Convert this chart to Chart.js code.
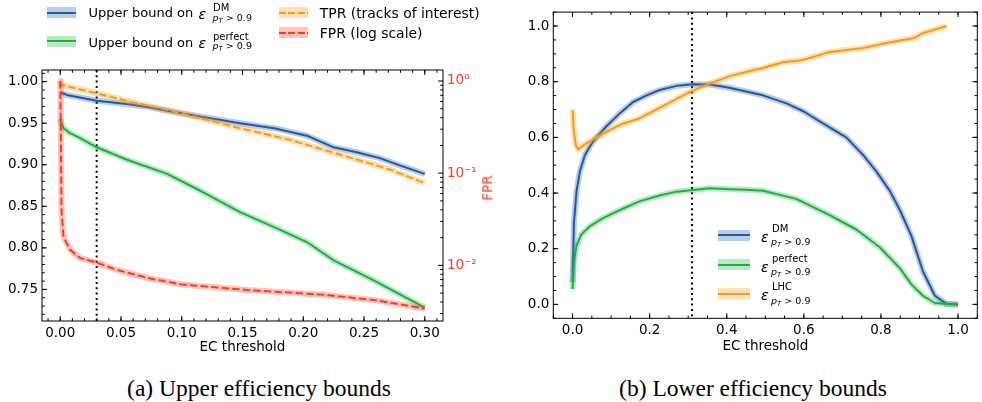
<!DOCTYPE html>
<html lang="en">
<head>
<meta charset="UTF-8">
<title>Efficiency bounds</title>
<script src="https://cdn.jsdelivr.net/npm/chart.js"></script>
<style>
  body { margin: 0; background: #fff; }
  #fig { position: relative; width: 982px; height: 402px; overflow: hidden; background: #fff; }
  canvas { position: absolute; top: 0; }
  .t { position: absolute; font-family: 'DejaVu Sans'; font-size: 13.5px; line-height: 1; white-space: nowrap; color: #000; }
  .w { font-size: 13.9px; }
  .n { font-size: 13px; }
  .eps { font-style: italic; font-size: 14px; }
  .sm { font-size: 10px; }
  .sb { font-size: 9.5px; }
  .sb i.T { font-size: 7px; vertical-align: -2px; }
  .sw { position: absolute; height: 11px; }
  .sw div { position: absolute; left: 0; right: 0; top: 4.5px; height: 2px; }
  .cap { position: absolute; font-family: 'Liberation Serif'; font-size: 23.5px; line-height: 1; white-space: nowrap; transform: translateX(-50%); }
  .rot { position: absolute; font-family: 'DejaVu Sans'; font-size: 13.5px; line-height: 1; white-space: nowrap; transform: translate(-50%, -50%) rotate(-90deg); }
</style>
</head>
<body>
<div id="fig">
  <canvas id="chartA" width="494" height="360" style="left:0"></canvas>
  <canvas id="chartB" width="488" height="360" style="left:494px"></canvas>

  <!-- legend (a) -->
  <div class="sw" style="left:46.7px;top:7.2px;width:29.3px;background:rgba(31,90,166,0.3)"><div style="background:#1f5aa6"></div></div>
  <span class="t n" style="left:88.5px;top:6.3px">Upper bound on</span>
  <span class="t eps" style="left:198.5px;top:6.6px">ε</span>
  <span class="t sm" style="left:213px;top:2.5px">DM</span>
  <span class="t sb" style="left:212.5px;top:12.6px"><i>p</i><i class="T">T</i> &gt; 0.9</span>

  <div class="sw" style="left:46.7px;top:35.5px;width:29.3px;background:rgba(28,179,60,0.3)"><div style="background:#1cb33c"></div></div>
  <span class="t n" style="left:88.5px;top:35.7px">Upper bound on</span>
  <span class="t eps" style="left:198.5px;top:35.9px">ε</span>
  <span class="t sm" style="left:213px;top:31.5px">perfect</span>
  <span class="t sb" style="left:212.5px;top:41.3px"><i>p</i><i class="T">T</i> &gt; 0.9</span>

  <div class="sw" style="left:279.3px;top:7.2px;width:29px;background:rgba(255,154,14,0.3)"><div style="background:repeating-linear-gradient(90deg,#ff9a0e 0 6.8px,transparent 6.8px 9.4px)"></div></div>
  <span class="t w" style="left:319.8px;top:6.6px">TPR (tracks of interest)</span>
  <div class="sw" style="left:279.3px;top:27.2px;width:29px;background:rgba(255,59,28,0.3)"><div style="background:repeating-linear-gradient(90deg,#ff3b1c 0 6.8px,transparent 6.8px 9.4px)"></div></div>
  <span class="t w" style="left:319.8px;top:27.3px">FPR (log scale)</span>

  <span class="rot" style="left:488px;top:188px;color:#ff3b1c">FPR</span>

  <!-- legend (b) -->
  <div class="sw" style="left:718px;top:229.5px;width:32px;background:rgba(31,90,166,0.3)"><div style="background:#1f5aa6"></div></div>
  <span class="t eps" style="left:761px;top:229.7px">ε</span>
  <span class="t sm" style="left:772px;top:224.2px">DM</span>
  <span class="t sb" style="left:771px;top:237px"><i>p</i><i class="T">T</i> &gt; 0.9</span>

  <div class="sw" style="left:718px;top:259px;width:32px;background:rgba(28,179,60,0.3)"><div style="background:#1cb33c"></div></div>
  <span class="t eps" style="left:761px;top:259.5px">ε</span>
  <span class="t sm" style="left:772px;top:253.8px">perfect</span>
  <span class="t sb" style="left:771px;top:266.8px"><i>p</i><i class="T">T</i> &gt; 0.9</span>

  <div class="sw" style="left:718px;top:288px;width:32px;background:rgba(255,154,14,0.3)"><div style="background:#ff9a0e"></div></div>
  <span class="t eps" style="left:761px;top:288.2px">ε</span>
  <span class="t sm" style="left:772px;top:282.2px">LHC</span>
  <span class="t sb" style="left:771px;top:295.5px"><i>p</i><i class="T">T</i> &gt; 0.9</span>

  <span class="cap" style="left:259px;top:377px">(a) Upper efficiency bounds</span>
  <span class="cap" style="left:753px;top:377px">(b) Lower efficiency bounds</span>
</div>

<script>
// (a) upper efficiency bounds vs EC threshold
const dmUpX = [0, 0.0055, 0.03, 0.055, 0.074, 0.088, 0.115, 0.148, 0.176, 0.203, 0.225, 0.244, 0.263, 0.28, 0.3];
const dmUpY = [0.987, 0.984, 0.977, 0.973, 0.969, 0.965, 0.958, 0.950, 0.944, 0.935, 0.921, 0.915, 0.908, 0.899, 0.889];
const perfUpX = [0, 0.001, 0.0027, 0.008, 0.0165, 0.03, 0.055, 0.088, 0.115, 0.148, 0.176, 0.203, 0.225, 0.258, 0.3];
const perfUpY = [0.955, 0.950, 0.944, 0.938, 0.932, 0.921, 0.906, 0.889, 0.869, 0.843, 0.825, 0.807, 0.785, 0.761, 0.728];
const tprX = [0, 0.001, 0.03, 0.06, 0.088, 0.115, 0.148, 0.189, 0.231, 0.272, 0.3];
const tprY = [1.0, 0.996, 0.986, 0.975, 0.966, 0.956, 0.944, 0.930, 0.912, 0.894, 0.878];
const fprX = [0, 0.0005, 0.001, 0.0027, 0.008, 0.0165, 0.03, 0.047, 0.074, 0.1, 0.154, 0.217, 0.258, 0.3];
const fprY = [1.0, 0.3, 0.04, 0.0204, 0.0148, 0.012, 0.0107, 0.0089, 0.0072, 0.0062, 0.0054, 0.0048, 0.0042, 0.0034];
const thresholdA = 0.03;

const xTicksA = [0, 0.05, 0.10, 0.15, 0.20, 0.25, 0.30];
const xLabelsA = ['0.00', '0.05', '0.10', '0.15', '0.20', '0.25', '0.30'];
const yTicksA = [0.75, 0.80, 0.85, 0.90, 0.95, 1.00];
const yLabelsA = ['0.75', '0.80', '0.85', '0.90', '0.95', '1.00'];
const fprTicks = [0.01, 0.1, 1];
const fprLabels = ['10\u207B\u00B2', '10\u207B\u00B9', '10\u2070'];

// (b) lower efficiency bounds vs EC threshold
const dmX = [0, 0.0035, 0.0104, 0.019, 0.032, 0.049, 0.066, 0.088, 0.123, 0.157, 0.192, 0.226, 0.27, 0.313, 0.356, 0.40, 0.45, 0.494, 0.555, 0.60, 0.64, 0.71, 0.754, 0.788, 0.823, 0.849, 0.879, 0.909, 0.94, 0.97, 1.0];
const dmY = [0.08, 0.292, 0.408, 0.478, 0.536, 0.577, 0.606, 0.640, 0.687, 0.727, 0.751, 0.770, 0.785, 0.791, 0.790, 0.780, 0.765, 0.751, 0.722, 0.693, 0.658, 0.600, 0.536, 0.478, 0.408, 0.339, 0.246, 0.118, 0.031, 0.002, 0.0];
const perfX = [0, 0.0035, 0.0104, 0.023, 0.045, 0.079, 0.123, 0.175, 0.226, 0.27, 0.313, 0.356, 0.408, 0.45, 0.494, 0.58, 0.667, 0.736, 0.797, 0.849, 0.879, 0.909, 0.94, 0.97, 1.0];
const perfY = [0.055, 0.153, 0.211, 0.252, 0.281, 0.310, 0.339, 0.371, 0.391, 0.405, 0.411, 0.417, 0.414, 0.412, 0.408, 0.379, 0.321, 0.269, 0.205, 0.130, 0.072, 0.031, 0.005, 0.001, 0.0];
const lhcX = [0, 0.0035, 0.009, 0.0147, 0.0276, 0.062, 0.097, 0.131, 0.166, 0.2, 0.244, 0.287, 0.313, 0.356, 0.408, 0.45, 0.494, 0.546, 0.598, 0.667, 0.754, 0.823, 0.884, 0.91, 0.97];
const lhcY = [0.698, 0.617, 0.571, 0.557, 0.571, 0.600, 0.627, 0.650, 0.664, 0.687, 0.719, 0.751, 0.768, 0.794, 0.820, 0.835, 0.849, 0.870, 0.878, 0.907, 0.921, 0.942, 0.956, 0.975, 1.0];
const thresholdB = 0.31;

const xTicksB = [0, 0.2, 0.4, 0.6, 0.8, 1.0];
const xLabelsB = ['0.0', '0.2', '0.4', '0.6', '0.8', '1.0'];
const yTicksB = [0, 0.2, 0.4, 0.6, 0.8, 1.0];
const yLabelsB = ['0.0', '0.2', '0.4', '0.6', '0.8', '1.0'];

const BLUE = '#1f5aa6', GREEN = '#1cb33c', ORANGE = '#ff9a0e', RED = '#ff3b1c';
const font = { family: 'DejaVu Sans', size: 13.5 };

function line(xs, ys, color, axis, dash) {
  return {
    data: xs.map((x, i) => ({ x: x, y: ys[i] })),
    yAxisID: axis, borderColor: color, borderWidth: 2, borderDash: dash || [],
    borderJoinStyle: 'round', pointRadius: 0, tension: 0, fill: false
  };
}
function band(xs, ys, color, axis) {
  const d = line(xs, ys, color, axis);
  d.borderWidth = 6;
  d.borderColor = color + '4d';
  return d;
}

// dotted threshold line, frame and inward ticks like matplotlib
const framePlugin = {
  id: 'frame',
  beforeDatasetsDraw(chart, args, o) {
    const { ctx, chartArea: a } = chart;
    const x = chart.scales.x.getPixelForValue(o.threshold);
    ctx.save();
    ctx.strokeStyle = '#000';
    ctx.lineWidth = 2;
    ctx.setLineDash([2, 3.3]);
    ctx.beginPath();
    ctx.moveTo(x, a.top);
    ctx.lineTo(x, a.bottom);
    ctx.stroke();
    ctx.restore();
  },
  afterDraw(chart, args, o) {
    const { ctx, chartArea: a } = chart;
    ctx.save();
    ctx.strokeStyle = '#000';
    ctx.lineWidth = 1;
    ctx.strokeRect(a.left, a.top, a.right - a.left, a.bottom - a.top);
    ctx.beginPath();
    for (const t of o.ticks) {
      const s = chart.scales[t.scale];
      const marks = s.ticks.map(k => [k.value, 5]);
      if (t.log) {
        for (let d = -3; d <= 0; d++)
          for (let k = 2; k <= 9; k++) marks.push([k * Math.pow(10, d), 2.8]);
      } else {
        const lo = Math.ceil(s.min / t.minor), hi = Math.floor(s.max / t.minor);
        for (let i = lo; i <= hi; i++) marks.push([i * t.minor, 2.8]);
      }
      for (const [v, len] of marks) {
        if (v < s.min || v > s.max) continue;
        const p = s.getPixelForValue(v);
        for (const side of t.sides) {
          if (side === 'bottom') { ctx.moveTo(p, a.bottom); ctx.lineTo(p, a.bottom - len); }
          if (side === 'top') { ctx.moveTo(p, a.top); ctx.lineTo(p, a.top + len); }
          if (side === 'left') { ctx.moveTo(a.left, p); ctx.lineTo(a.left + len, p); }
          if (side === 'right') { ctx.moveTo(a.right, p); ctx.lineTo(a.right - len, p); }
        }
      }
    }
    ctx.stroke();
    ctx.restore();
  }
};

function axis(pos, min, max, ticks, labels, size, extra, color) {
  const horiz = pos === 'bottom';
  return Object.assign({
    type: 'linear', position: pos, min: min, max: max,
    grid: { display: false, drawTicks: false }, border: { display: false },
    afterBuildTicks: s => { s.ticks = ticks.map(v => ({ value: v })); },
    ticks: { callback: (v, i) => labels[i], font: font, color: color || '#000', padding: 4, maxRotation: 0, autoSkip: false },
    afterFit: s => { if (horiz) s.height = size; else s.width = size; }
  }, extra || {});
}

Chart.defaults.color = '#000';

new Chart(document.getElementById('chartA'), {
  type: 'line',
  data: {
    datasets: [
      line(fprX, fprY, RED, 'y2', [7.4, 3.2]),
      band(fprX, fprY, RED, 'y2'),
      line(tprX, tprY, ORANGE, 'y', [7.4, 3.2]),
      band(tprX, tprY, ORANGE, 'y'),
      line(perfUpX, perfUpY, GREEN, 'y'),
      band(perfUpX, perfUpY, GREEN, 'y'),
      line(dmUpX, dmUpY, BLUE, 'y'),
      band(dmUpX, dmUpY, BLUE, 'y')
    ]
  },
  options: {
    responsive: false, animation: false, devicePixelRatio: 1,
    layout: { padding: { top: 70, left: 0, right: 0, bottom: 0 } },
    plugins: {
      legend: { display: false }, tooltip: { enabled: false },
      frame: {
        threshold: thresholdA,
        ticks: [
          { scale: 'x', sides: ['bottom', 'top'], minor: 0.01 },
          { scale: 'y', sides: ['left'], minor: 0.01 },
          { scale: 'y2', sides: ['right'], log: true }
        ]
      }
    },
    scales: {
      x: axis('bottom', -0.015, 0.315, xTicksA, xLabelsA, 39, {
        title: { display: true, text: 'EC threshold', font: font, color: '#000', padding: { top: 0, bottom: 4.4 } }
      }),
      y: axis('left', 0.712, 1.014, yTicksA, yLabelsA, 42),
      y2: axis('right', 0.00249, 1.316, fprTicks, fprLabels, 51, { type: 'logarithmic' }, RED)
    }
  },
  plugins: [framePlugin]
});

new Chart(document.getElementById('chartB'), {
  type: 'line',
  data: {
    datasets: [
      line(lhcX, lhcY, ORANGE, 'y'),
      band(lhcX, lhcY, ORANGE, 'y'),
      line(perfX, perfY, GREEN, 'y'),
      band(perfX, perfY, GREEN, 'y'),
      line(dmX, dmY, BLUE, 'y'),
      band(dmX, dmY, BLUE, 'y')
    ]
  },
  options: {
    responsive: false, animation: false, devicePixelRatio: 1,
    layout: { padding: { top: 3, left: 0, right: 4.7, bottom: 0 } },
    plugins: {
      legend: { display: false }, tooltip: { enabled: false },
      frame: {
        threshold: thresholdB,
        ticks: [
          { scale: 'x', sides: ['bottom', 'top'], minor: 0.05 },
          { scale: 'y', sides: ['left', 'right'], minor: 0.05 }
        ]
      }
    },
    scales: {
      x: axis('bottom', -0.05, 1.05, xTicksB, xLabelsB, 41.7, {
        title: { display: true, text: 'EC threshold', font: font, color: '#000', padding: { top: 0, bottom: 5 } }
      }),
      y: axis('left', -0.05, 1.05, yTicksB, yLabelsB, 59.3)
    }
  },
  plugins: [framePlugin]
});
</script>
</body>
</html>
